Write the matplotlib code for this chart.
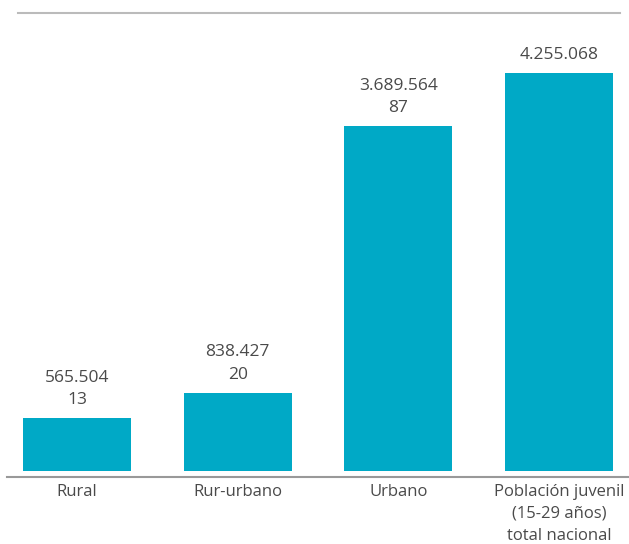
import matplotlib
matplotlib.use("Agg")
import matplotlib.pyplot as plt

categories = ["Rural", "Rur-urbano", "Urbano", "Población juvenil\n(15-29 años)\ntotal nacional"]
values = [565504, 838427, 3689564, 4255068]
value_labels = ["565.504", "838.427", "3.689.564", "4.255.068"]
percent_labels = ["13", "20", "87", None]

plt.rcParams['font.family'] = ['Open Sans', 'DejaVu Sans']
W, H = 629, 544
fig = plt.figure(figsize=(W/100, H/100), dpi=100)
ax_left, ax_right = 7, 629
ax_top, ax_bot = 12.7, 477
ax = fig.add_axes([ax_left/W, 1 - ax_bot/H, (ax_right-ax_left)/W, (ax_bot-ax_top)/H])

bar_color = "#00A9C6"
text_color = "#4a4a4a"
x = list(range(len(categories)))
ax.bar(x, values, width=0.672, color=bar_color)

ax.set_xlim(-0.436, 3.436)
ax.set_ylim(-64146, 4899738)

for xi, v, vl, pl in zip(x, values, value_labels, percent_labels):
    txt = vl if pl is None else vl + "\n" + pl
    ax.annotate(txt, (xi, v), xytext=(0, 7), textcoords="offset points",
                ha="center", va="bottom", fontsize=12.5, color=text_color,
                linespacing=1.55)

for s in ["top", "right", "left"]:
    ax.spines[s].set_visible(False)
ax.spines["bottom"].set_color("#999999")
ax.spines["bottom"].set_linewidth(1.5)
ax.axhline(ax.get_ylim()[1], xmin=0.018, xmax=0.985, color="#bbbbbb", lw=1.5, clip_on=False)

ax.set_yticks([])
ax.set_xticks(x)
ax.set_xticklabels(categories, fontsize=12, color=text_color, linespacing=1.5)
ax.tick_params(axis="x", length=0, pad=5)

fig.savefig("out.png", dpi=100)
